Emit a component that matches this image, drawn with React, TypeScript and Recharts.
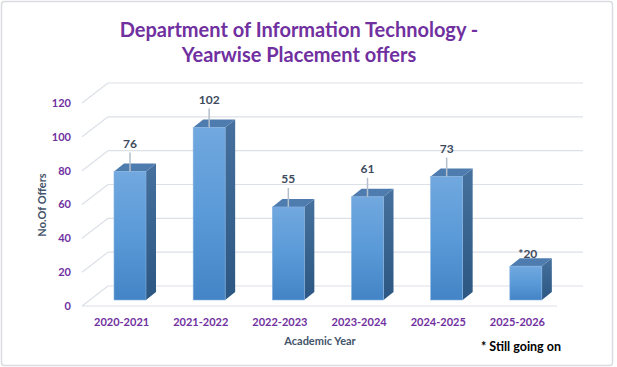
import React from 'react';
import { BarChart, Bar, XAxis, YAxis, CartesianGrid, LabelList, ReferenceLine } from 'recharts';

const years = ['2020-2021', '2021-2022', '2022-2023', '2023-2024', '2024-2025', '2025-2026'];
const offers = [76, 102, 55, 61, 73, 20];
const ongoing = [false, false, false, false, false, true];
const yTicks = [0, 20, 40, 60, 80, 100, 120];

const data = years.map((y, i) => ({ year: y, offers: offers[i], ongoing: ongoing[i] }));

const FONT = 'Lato, "Open Sans", sans-serif';
const PURPLE = '#7030A0';
const SLATE = '#44546A';
const GRID = '#DCE0E7';

const WALL_DX = 26;
const WALL_DY = 20;
const BAR_OX = 8;
const BAR_OY = 6;
const BAR_DX = 10;
const BAR_DY = 8;

const Bar3D = (props: any) => {
  const { x, y, width, height } = props;
  if (width == null || height == null) return null;
  const fx = x + BAR_OX;
  const fy = y - BAR_OY;
  return (
    <g>
      <polygon
        points={`${fx + width},${fy} ${fx + width + BAR_DX},${fy - BAR_DY} ${fx + width + BAR_DX},${fy + height - BAR_DY} ${fx + width},${fy + height}`}
        fill="url(#sideGrad)"
      />
      <polygon
        points={`${fx},${fy} ${fx + BAR_DX},${fy - BAR_DY} ${fx + width + BAR_DX},${fy - BAR_DY} ${fx + width},${fy}`}
        fill="#4F7CAE"
      />
      <rect x={fx} y={fy} width={width} height={height} fill="url(#frontGrad)" stroke="#86B2E2" strokeWidth={0.6} />
    </g>
  );
};

const gridLine = (props: any) => {
  const { x1, y1, x2, index } = props;
  return (
    <g key={`gl-${index}-${y1}`}>
      <line x1={x1} y1={y1} x2={x1 + WALL_DX} y2={y1 - WALL_DY} stroke={GRID} strokeWidth={1.2} />
      <line x1={x1 + WALL_DX} y1={y1 - WALL_DY} x2={x2 + WALL_DX} y2={y1 - WALL_DY} stroke={GRID} strokeWidth={1.2} />
    </g>
  );
};

const renderLabel = (props: any) => {
  const { x, y, width, value, index } = props;
  const cx = x + BAR_OX + width / 2;
  const top = y - BAR_OY;
  const style = { fontFamily: FONT, fontWeight: 700, fontSize: 12, fill: '#3E4B5E' } as any;
  if (ongoing[index]) {
    return (
      <text x={cx + 2} y={top - 13} textAnchor="middle" dominantBaseline="central" style={style}>
        {`*${value}`}
      </text>
    );
  }
  return (
    <g>
      <line x1={cx} y1={top - 19} x2={cx} y2={top} stroke="#B4BFCD" strokeWidth={1.5} />
      <text x={cx} y={top - 28} textAnchor="middle" dominantBaseline="central" style={style}>
        {value}
      </text>
    </g>
  );
};

export default function App() {
  return (
    <div style={{ position: 'absolute', left: 0, top: 0, width: 617, height: 367, background: '#fff', fontFamily: FONT }}>
      <BarChart
        width={617}
        height={367}
        data={data}
        margin={{ top: 103, right: 60, bottom: 31, left: 0 }}
        barSize={32}
      >
        <defs>
          <linearGradient id="frontGrad" x1="0" y1="0" x2="0" y2="1">
            <stop offset="0%" stopColor="#71A8DF" />
            <stop offset="50%" stopColor="#5A9AD8" />
            <stop offset="100%" stopColor="#4384C6" />
          </linearGradient>
          <linearGradient id="sideGrad" x1="0" y1="0" x2="0" y2="1">
            <stop offset="0%" stopColor="#46709D" />
            <stop offset="100%" stopColor="#2B5782" />
          </linearGradient>
        </defs>
        <CartesianGrid vertical={false} horizontal={gridLine} />
        <ReferenceLine y={0} stroke={GRID} strokeWidth={1.2} />
        <XAxis
          dataKey="year"
          height={30}
          axisLine={false}
          tickLine={false}
          tickMargin={6}
          interval={0}
          tick={{ fill: PURPLE, fontFamily: FONT, fontWeight: 700, fontSize: 11 }}
        />
        <YAxis
          width={82}
          domain={[0, 120]}
          ticks={yTicks}
          axisLine={false}
          tickLine={false}
          tickMargin={5}
          tick={{ fill: PURPLE, fontFamily: FONT, fontWeight: 700, fontSize: 11 }}
        />
        <Bar dataKey="offers" shape={Bar3D} isAnimationActive={false}>
          <LabelList dataKey="offers" content={renderLabel} />
        </Bar>
      </BarChart>
      <svg width={617} height={367} style={{ position: 'absolute', left: 0, top: 0, pointerEvents: 'none' }}>
        <rect x={1.5} y={1.5} width={611} height={364} rx={3} fill="none" stroke="#D9DCE1" strokeWidth={1.5} />
        <text x={299} y={37} textAnchor="middle" style={{ fontFamily: FONT, fontWeight: 700, fontSize: 20, fill: PURPLE }}>
          Department of Information Technology -
        </text>
        <text x={299} y={62} textAnchor="middle" style={{ fontFamily: FONT, fontWeight: 700, fontSize: 20, fill: PURPLE }}>
          Yearwise Placement offers
        </text>
        <text x={41} y={205} textAnchor="middle" dominantBaseline="central" transform="rotate(-90 41 205)" style={{ fontFamily: FONT, fontWeight: 700, fontSize: 11, fill: SLATE }}>
          No.Of Offers
        </text>
        <text x={320} y={340} textAnchor="middle" dominantBaseline="central" style={{ fontFamily: FONT, fontWeight: 700, fontSize: 11, fill: SLATE }}>
          Academic Year
        </text>
        <text x={481} y={346} textAnchor="start" dominantBaseline="central" style={{ fontFamily: FONT, fontWeight: 700, fontSize: 12.5, fill: '#000' }}>
          * Still going on
        </text>
      </svg>
    </div>
  );
}
